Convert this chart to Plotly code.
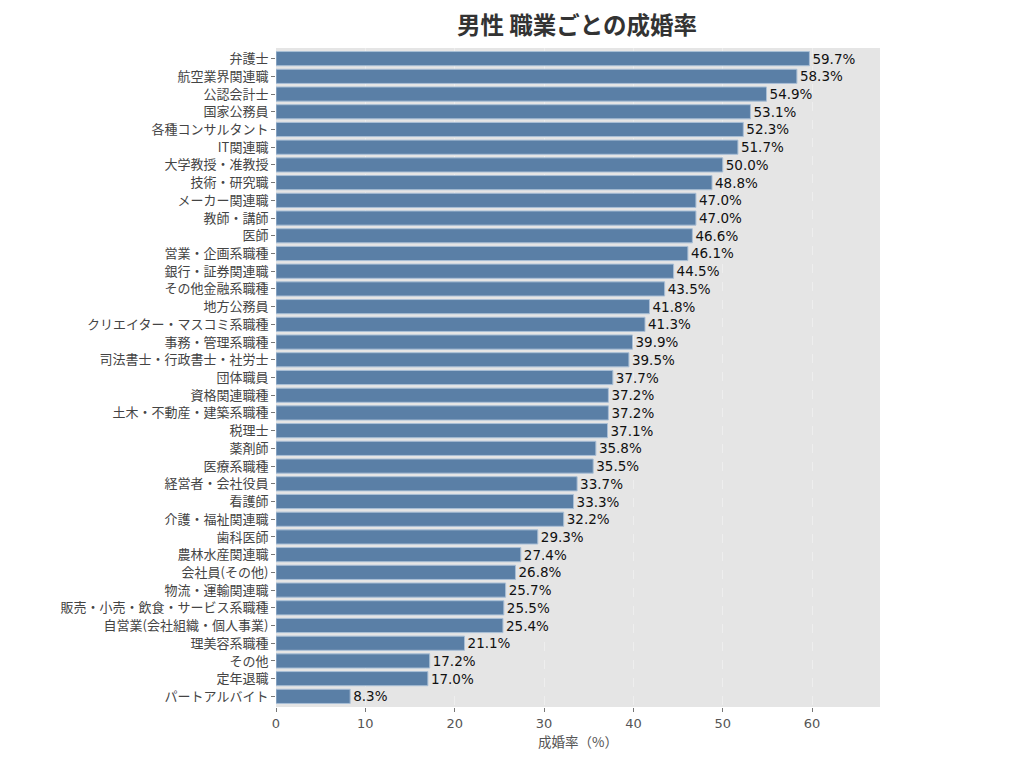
import plotly.graph_objects as go

# 職業と成婚率（%）、上から順
jobs = [
    "弁護士", "航空業界関連職", "公認会計士", "国家公務員", "各種コンサルタント",
    "IT関連職", "大学教授・准教授", "技術・研究職", "メーカー関連職", "教師・講師",
    "医師", "営業・企画系職種", "銀行・証券関連職", "その他金融系職種", "地方公務員",
    "クリエイター・マスコミ系職種", "事務・管理系職種", "司法書士・行政書士・社労士",
    "団体職員", "資格関連職種", "土木・不動産・建築系職種", "税理士", "薬剤師",
    "医療系職種", "経営者・会社役員", "看護師", "介護・福祉関連職", "歯科医師",
    "農林水産関連職", "会社員(その他)", "物流・運輸関連職",
    "販売・小売・飲食・サービス系職種", "自営業(会社組織・個人事業)", "理美容系職種",
    "その他", "定年退職", "パートアルバイト",
]
rates = [
    59.7, 58.3, 54.9, 53.1, 52.3, 51.7, 50.0, 48.8, 47.0, 47.0,
    46.6, 46.1, 44.5, 43.5, 41.8, 41.3, 39.9, 39.5, 37.7, 37.2,
    37.2, 37.1, 35.8, 35.5, 33.7, 33.3, 32.2, 29.3, 27.4, 26.8,
    25.7, 25.5, 25.4, 21.1, 17.2, 17.0, 8.3,
]
x_ticks = [0, 10, 20, 30, 40, 50, 60]

font = "Noto Sans CJK JP"

fig = go.Figure()
fig.add_trace(go.Bar(
    x=rates,
    y=jobs,
    orientation="h",
    marker=dict(color="#5a7fa6", line=dict(color="#a9bfd6", width=1)),
    width=0.8,
    text=[f"{v:.1f}%" for v in rates],
    textposition="outside",
    constraintext="none",
    cliponaxis=False,
    textfont=dict(family="DejaVu Sans", size=13.5, color="#111111"),
    hoverinfo="x+y",
))

# ページ余白(8px)を見込んだマージン
fig.update_layout(
    width=1024,
    height=760,
    margin=dict(l=268, r=152, t=40, b=61, autoexpand=False),
    paper_bgcolor="white",
    plot_bgcolor="#e5e5e5",
    showlegend=False,
    font=dict(family=font, size=13, color="#444444"),
    title=dict(
        text="<b>男性 職業ごとの成婚率</b>",
        x=0.5557, xanchor="center",
        y=0.977, yanchor="middle",
        font=dict(family=font, size=23.5, color="#333333"),
    ),
)

fig.update_xaxes(
    range=[0, 67.6],
    tickvals=x_ticks,
    ticks="outside", ticklen=4, tickcolor="#777777",
    showgrid=True, gridcolor="#eeeeee", griddash="dash", gridwidth=0.5,
    zeroline=False,
    automargin=False,
    title=dict(text="成婚率（%）", font=dict(family=font, size=13.5, color="#555555"), standoff=2),
    tickfont=dict(family="DejaVu Sans", size=13, color="#555555"),
)
fig.update_yaxes(
    categoryorder="array",
    categoryarray=list(reversed(jobs)),
    range=[-0.6, len(jobs) - 0.4],
    ticks="outside", ticklen=4, tickcolor="#777777",
    showgrid=False,
    automargin=False,
    tickfont=dict(family=font, size=13, color="#444444"),
)

fig.write_html("out.html")
